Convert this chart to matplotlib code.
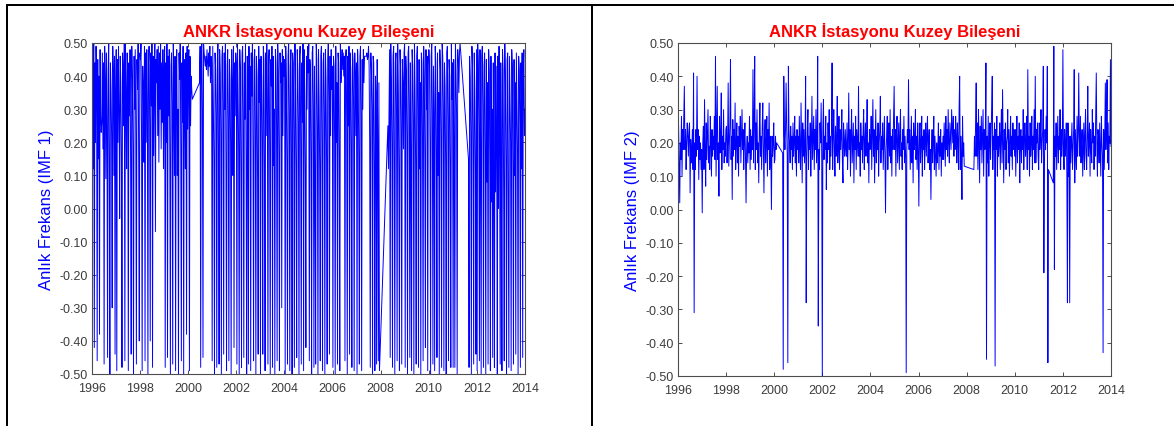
import numpy as np
import matplotlib
matplotlib.use("Agg")
import matplotlib.pyplot as plt
from matplotlib.lines import Line2D

plt.rcParams['font.family'] = ['Liberation Sans', 'DejaVu Sans']

TITLE = "ANKR İstasyonu Kuzey Bileşeni"
YLABEL_1 = "Anlık Frekans (IMF 1)"
YLABEL_2 = "Anlık Frekans (IMF 2)"
YEAR_TICKS = [1996, 1998, 2000, 2002, 2004, 2006, 2008, 2010, 2012, 2014]
FREQ_TICKS = [-0.5, -0.4, -0.3, -0.2, -0.1, 0.0, 0.1, 0.2, 0.3, 0.4, 0.5]
FREQ_LABELS = ["-0.50", "-0.40", "-0.30", "-0.20", "-0.10", "0.00",
               "0.10", "0.20", "0.30", "0.40", "0.50"]

# Instantaneous frequency of IMF 1 (hundredths), stored per continuous data block
imf1_spans = [(1996.00, 2000.17), (2000.47, 2007.95), (2008.30, 2011.30), (2011.65, 2014.00)]
imf1_block_a = [
    30, 48, 12, 50, -42, 44, 20, 49, 35, -46, 45, 15, 40, -38, 48, 28, 23, 26, 47, 18, 44,
    -47, 49, 38, 9, 47, 25, -45, 42, 50, 14, -50, 44, 36, 22, -30, 49, 41, 10, 46, -44, 33,
    48, -49, 45, 20, 49, 30, -3, 46, 38, 16, -48, 47, 42, 25, 50, -46, 50, 35, 12, 47, 40,
    -49, 44, 28, 48, 12, -44, 49, 39, 18, -50, 46, 30, 48, 22, -47, 45, 36, 50, 15, -40, 47,
    45, 50, 20, -49, 43, 36, 14, 49, -46, 47, 20, 48, 33, -50, 44, 49, 25, -40, 47, 31, 50,
    -48, 46, 16, 41, 50, -7, 45, 38, 48, 22, 49, 14, 47, 30, 50, 18, 44, 26, 48, 12, 40,
    49, -48, 44, 20, 50, -45, 46, 28, 48, 15, -50, 43, 47, 32, -47, 50, 35, 10, 46, -49, 42,
    48, 10, 30, -50, 47, 39, 50, 18, -46, 44, 26, 49, -50, 45, 33, 12, 47, -38, 49, 24, 44,
    48, -49, 46, 25, 40, 36, 33,
]
imf1_block_b = [
    38, 49, -48, 47, 50, 30, -45, 50, 47, 45, 43, 46, 42, 48, 44, 40, 47, 43, 49, 38, 46, 44,
    -46, 49, 33, 15, -50, 47, 42, 28, -48, 45, 50, 18, -47, 48, 41, 22, -50, 46, 49, 30, -44,
    47, 30, 50, 12, -49, 43, 48, 26, -46, 45, 39, 20, -50, 48, 36, 10, 49, -42, 44, 28, 47,
    44, -47, 50, 36, 18, -50, 48, 42, 11, -48, 47, 49, 25, -45, 44, 27, 50, 14, -50, 46, 41,
    -47, 49, 30, 43, -49, 47, 34, 50, 16, -46, 45, 48, 22, -50, 46, 40, 8, -44, 49, 32, 45,
    -50, 46, 40, 20, -44, 49, 45, 12, -49, 47, 22, 50, 35, -47, 43, 48, 18, -50, 45, 37, 49,
    -48, 46, 13, 30, -50, 48, 44, 25, -46, 50, 41, 16, -49, 47, 38, 44, -30, 48, 22, 46, 40,
    45, -50, 49, 38, 14, -47, 46, 50, 28, -49, 43, 48, 15, -50, 47, 44, 20, -48, 50, 36, 12,
    -45, 48, 42, 26, -50, 46, 49, 18, -47, 44, 26, 50, -49, 48, 35, 10, -42, 46, 30, 49, 41,
    50, -46, 45, 41, 16, -50, 47, 49, 30, -48, 43, 9, -47, 50, 45, 24, -50, 48, 33, 12, -46,
    46, 49, 20, -49, 44, 47, 28, -50, 48, 39, 14, -47, 45, 50, 32, -44, 46, 22, 48, 36, 43,
    -48, 46, 43, 20, -50, 49, 20, 38, -47, 47, 44, 16, -49, 50, 38, 44, 48, 42, 47, 40, 46,
    -46, 45, 48, 26, -50, 46, 25, 49, -44, 47, 42, 18, -48, 48, 45, 30, -49, 47, 40, 22, 44,
    -50, 48, 40, 15, -47, 46, 49, 28, -49, 45, 30, 48, 38, 46, 46, 46, 46, 47, 45, 46, 49,
    43, 20, -48, 47, 41, 30, -50, 46, 44, 12, -49, 40, 35, -47, 45, 22, -46, 38, -49,
]
imf1_block_c = [
    25, 12, 30, 48, -45, 50, 38, 20, -48, 46, 49, 15, -50, 44, 47, 28, -46, 50, 35, 10, -49, 48, 42, 24, -47, 45, 38, 18, 47,
    50, -48, 46, 41, 22, -50, 47, 49, 30, -45, 44, 18, -49, 48, 43, 26, -50, 50, 36, 14, -47,
    46, 49, 25, -48, 45, 12, 38, -50, 47, 44, 20, -46, 49, 40, 15, -42, 48, 30, 46, -49, 43,
    48, 45, 20, -50, 46, 50, 28, -47, 43, 29, -49, 49, 44, 16, -45, 47, 10, 35, -50, 48, 42,
    22, -48, 50, 46, 30, -49, 44, 37, 14, -50, 47, 49, 26, -46, 45, 40, 12, -48, 50, 33, 44,
    -48, 45, 20, -48, 50, 41, 28, -50, 48, 44, 35, 47, 50,
]
imf1_block_d = [
    15, -48, 46, 40, 22, -50, 49, 43, 18, -47, 47, 36, 12, -44, 48,
    -49, 50, 44, 25, -46, 48, 21, -50, 46, 49, 30, -48, 43, 47, 18, -50, 45, 8, 38, -47, 48,
    41, 12, -49, 46, 2, 30, -45, 44, 10, -48, 47, 5, 43, 15, -50, 46, 0, 49, 20, -47, 44,
    12, -49, 48, 42, 4, -46, 50, 38, 14, -50, 45, 47, 2, -48, 46, 33, 20, -49, 48, 43, 10,
    -47, 45, 10, 38, -44, 47, 31, 18, -50, 46, 42, 25, -48, 44, 12, 47, -45, 40, 48, 22, 30,
]

# Instantaneous frequency of IMF 2 (hundredths)
imf2_spans = [(1996.00, 2000.10), (2000.35, 2007.90), (2008.30, 2011.40), (2011.60, 2014.00)]
imf2_block_a = [
    22, 25, 14, 2, 20, 15, 28, 10, 24, 18, 28, 37, 18, 24, 12, 20, 26, 22, 16, 24, 26,
    5, 21, 14, 18, 24, 12, 41, -31, 20, 12, 24, 16, 40, 18, 24, 9, 22, 15, 20, 12, 18,
    -1, 20, 25, 12, 33, 18, 7, 26, 15, 22, 30, 14, 19, 12, 28, 20, 10, 24, 16, 22, 18,
    28, 15, 46, 10, 24, 37, 15, 20, 4, 28, 17, 22, 35, 12, 22, 18, 30, 14, 20, 16, 24,
    25, 14, 20, 38, 13, 20, 26, 45, 15, 22, 3, 27, 16, 24, 18, 32, 12, 20, 26, 14, 22,
    10, 25, 19, 28, 14, 22, 30, 18, 24, 12, 20, 26, 16, 2, 18, 22, 14, 20, 17, 28, 12,
    24, 15, 22, 18, 42, 14, 26, 46, 12, 26, 18, 30, 14, 20, 8, 24, 32, 16, 22, 12, 25,
    32, 18, 5, 22, 27, 14, 20, 28, 10, 24, 18, 32, 12, 22, 16, 0, 22, 16, 20, 26, 14,
    15, 22, 18, 20,
]
imf2_block_b = [
    17, -48, 40, 22, 18, 24, 38, 25, 16, -46, 43, 24, 20, 14, 25, 18, 22, 12, 26, 16, 20, 28, 14, 22, 10, 24, 18,
    22, 14, 28, 18, 12, 32, 20, 8, 26, 16, 24, 14, 20, 40, -28, 16, 24, 30, 12, 22, 18,
    26, 10, 20, 34, 15, 22, 28, 12, 24, 18, 30, 14, 20, 46, -35, 18, 12, 26, 20, 32, 16,
    -50, 24, 33, 15, 22, 18, 28, 6, 20, 14, 26, 18, 30, 12, 22, 16, 24, 44, 12, 22, 30,
    18, 10, 25, 16, 22, 34, 14, 20, 28, 12, 24, 18, 22, 30, 14, 8, 26, 20, 16, 24, 18,
    16, 26, 12, 20, 35, 18, 24, 10, 22, 30, 14, 20, 26, 8, 22, 18, 28, 12, 24, 20, 16,
    37, 16, 20, 10, 26, 18, 22, 14, 24, 30, 12, 20, 26, 16, 22, 33, 14, 20, 8, 24, 18,
    20, 28, 12, 22, 33, 16, 24, 8, 20, 30, 14, 22, 18, 26, 10, 20, 24, 34, 14, 22, 18,
    26, 12, 20, 28, 16, -1, 18, 22, 28, 12, 20, 26, 16, 30, 14, 22, 10, 24, 18, 28, 37,
    18, 24, 10, 22, 28, 14, 20, 26, 12, 22, 30, 16, 20, 12, 24, 18, 28, 14, 22, 16, -49,
    18, 24, 20, 39, 18, 24, 12, 20, 28, 14, 22, 8, 26, 18, 20, 30, 15, 22, 12, 26, 18,
    1, 22, 26, 14, 20, 28, 10, 22, 18, 24, 12, 20, 26, 16, 22, 28, 14, 20, 24, 12, 18,
    3, 18, 24, 14, 20, 28, 12, 22, 16, 10, 20, 14, 18, 26, 12, 22, 16, 24, 10, 20, 15,
    22, 15, 26, 20, 13, 28, 18, 24, 16, 30, 20, 14, 26, 22, 18, 30, 25, 20, 28, 16, 24,
    18, 28, 22, 14, 26, 20, 12, 30, 40, 12, 22, 16, 3, 28, 16, 20, 13,
]
imf2_block_c = [
    12, 22, 16, 26, 38, 16, 26, 12, 30, 20, 8, 25, 18, 28, 14, 22, 30, 10, 24, 18, 20, 44, -45, 22, 14, 28, 10, 20, 26,
    15, 22, 30, 40, 12, 22, 18, 26, -47, 24, 18, 28, 10, 22, 16, 20, 26, 12, 22, 30, 14,
    36, 20, 8, 24, 18, 26, 12, 20, 22, 30, 14, 24, 10, 20, 28, 16, 22, 12, 26, 18, 24,
    16, 24, 10, 20, 28, 14, 22, 18, 26, 8, 20, 24, 14, 22, 18, 30, 12, 22, 26, 16, 20,
    28, 12, 42, 18, 22, 10, 26, 16, 20, 28, 12, 22, 18, 30, 14, 40, 14, 24, 20, 26, 16,
    12, 26, 18, 22, 30, 14, 20, 24, 43, -19, 14, 24, 18, 28, 20, 43, -46, 12,
]
imf2_block_d = [
    8, 49, -18, 22, 16, 26, 12, 20, 28, 14, 22, 18, 30, 12, 24, 16, 20,
    48, 18, 12, 24, 16, 20, 26, 10, -28, 26, 10, 22, -28, 22, 14, 20, 26, 12, 18, 24, 42,
    8, 24, 18, 12, 28, 16, 22, 41, 22, 16, 28, 14, 20, 24, 10, 18, 26, 12, 22, 30, 16,
    12, 22, 37, 16, 20, 26, 10, 24, 18, 14, 30, 20, 26, 12, 22, 16, 28, 41, 20, 10, 24,
    22, 14, 26, 18, 10, 28, 20, 16, -43, 24, 12, 22, 38, 18, 24, 39, 14, 26, 12, 22, 20, 45, 19,
]


def assemble(spans, blocks):
    """Place each block evenly over its time span and join them into one series."""
    t, v = [], []
    for (t0, t1), block in zip(spans, blocks):
        t.append(np.linspace(t0, t1, len(block)))
        v.append(np.asarray(block, dtype=float) / 100.0)
    return np.concatenate(t), np.concatenate(v)


t1, f1 = assemble(imf1_spans, [imf1_block_a, imf1_block_b, imf1_block_c, imf1_block_d])
t2, f2 = assemble(imf2_spans, [imf2_block_a, imf2_block_b, imf2_block_c, imf2_block_d])

W, H = 1174, 427
fig = plt.figure(figsize=(W / 100, H / 100), dpi=100)

axis_grey = '#4d4d4d'
text_grey = '#3c3c3c'


def style(ax, t, f, ylabel):
    ax.plot(t, f, color='#0000ff', lw=0.7)
    ax.set_xlim(1996, 2014)
    ax.set_ylim(-0.5, 0.5)
    ax.set_xticks(YEAR_TICKS)
    ax.set_yticks(FREQ_TICKS)
    ax.set_yticklabels(FREQ_LABELS)
    ax.tick_params(direction='in', length=3, width=0.7, colors=axis_grey,
                   labelcolor=text_grey, labelsize=9, top=True, right=True, pad=3)
    ax.tick_params(axis='x', pad=5.5)
    for s in ax.spines.values():
        s.set_color(axis_grey)
        s.set_linewidth(0.8)
    ax.set_title(TITLE, color='#ff0000', fontsize=12, fontweight='bold', pad=5)
    ax.set_ylabel(ylabel, color='#0000ff', fontsize=12, labelpad=4)


ax1 = fig.add_axes([92 / W, 1 - 375 / H, 433 / W, 331 / H])
style(ax1, t1, f1, YLABEL_1)
ax2 = fig.add_axes([678 / W, 1 - 377 / H, 433 / W, 333 / H])
style(ax2, t2, f2, YLABEL_2)

# Table frame around the two panels
lw_frame = 2 * 72 / 100
frame = dict(color='black', lw=lw_frame, transform=fig.transFigure, solid_capstyle='butt')
fig.add_artist(Line2D([7 / W, 7 / W], [0, 1 - 5 / H], **frame))
fig.add_artist(Line2D([592 / W, 592 / W], [0, 1 - 6 / H], **frame))
fig.add_artist(Line2D([6 / W, 1], [1 - 6 / H, 1 - 6 / H], **frame))

fig.savefig('out.png', dpi=100)
